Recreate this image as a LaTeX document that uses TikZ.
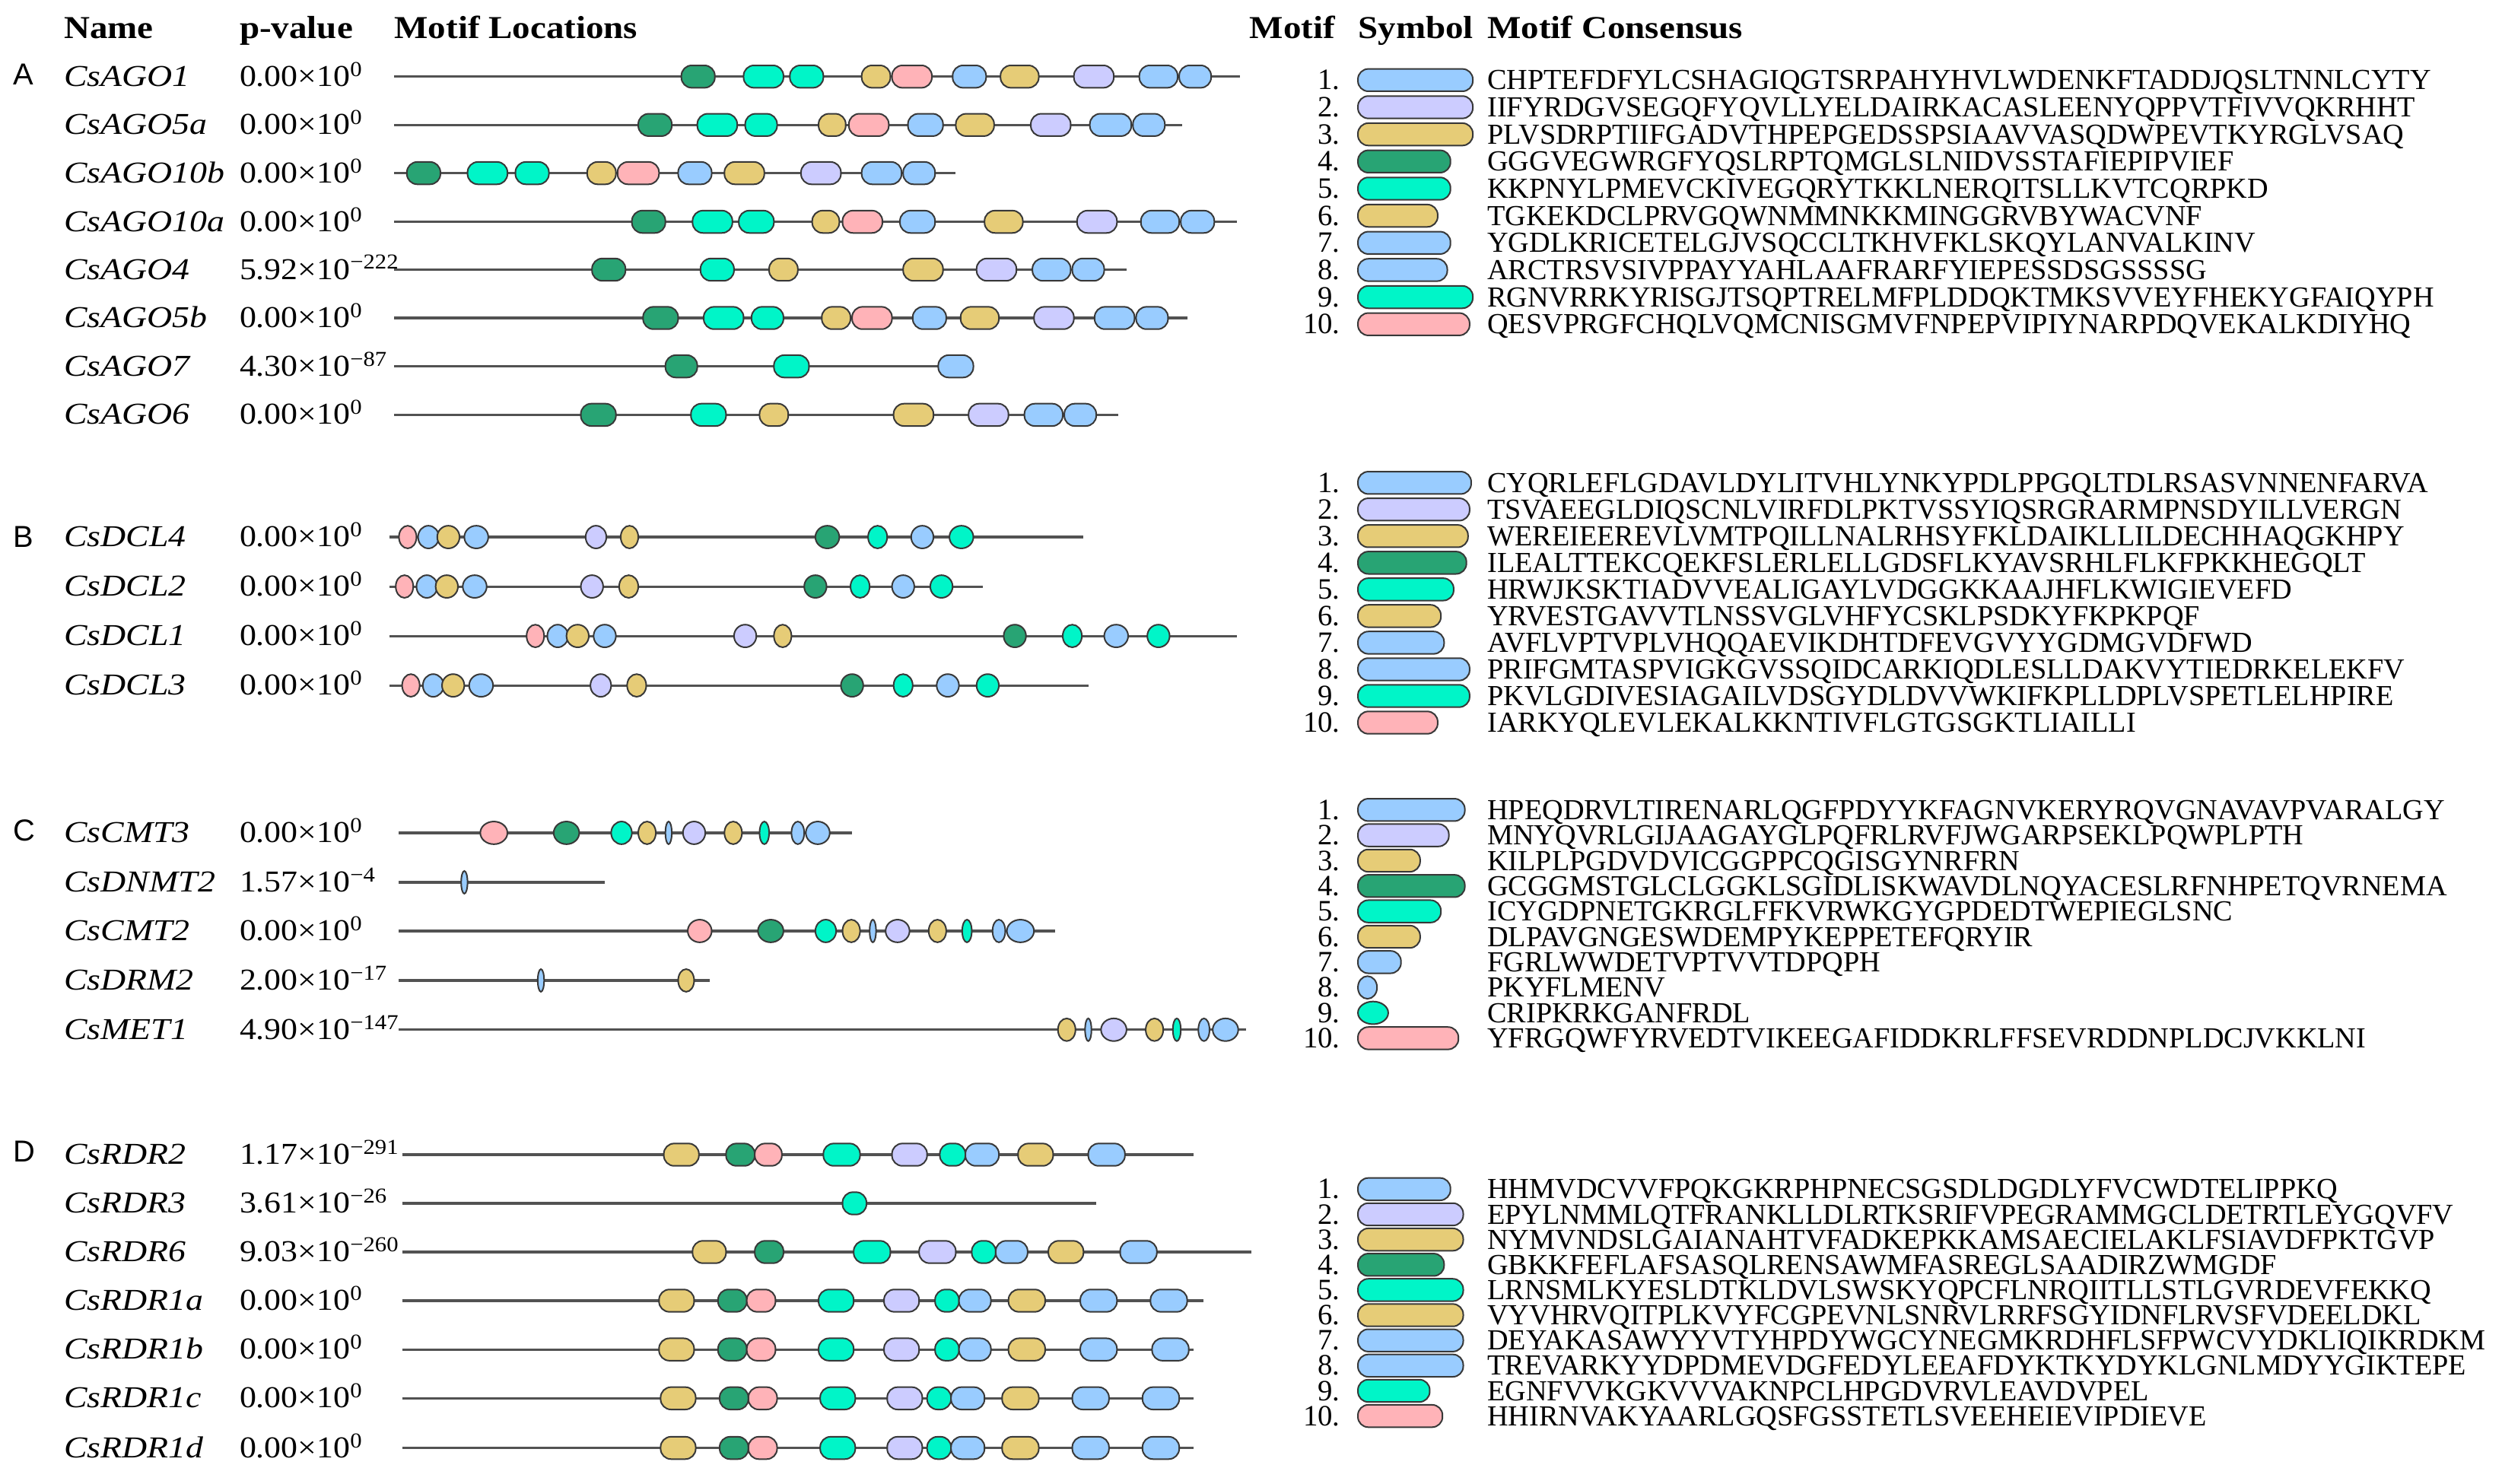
\documentclass[tikz,border=0pt]{standalone}
\usepackage{fontspec}
\setmainfont{Liberation Serif}
\newfontfamily\hdfont[FakeStretch=1.12]{Liberation Serif}
\newfontfamily\nmfont[FakeStretch=1.15]{Liberation Serif}
\newfontfamily\pvfont[FakeStretch=1.1]{Liberation Serif}
\newfontfamily\lfont{Liberation Sans}
\definecolor{mB}{HTML}{99CCFF}
\definecolor{mL}{HTML}{CCCCFF}
\definecolor{mY}{HTML}{E6CC77}
\definecolor{mG}{HTML}{28A474}
\definecolor{mC}{HTML}{00F5C8}
\definecolor{mP}{HTML}{FFB3B8}
\newcommand\pw[1]{\textsuperscript{#1}}
\newcommand\St[4]{\draw[mshape,fill=#1,rounded corners=6.5pt] (#2,#4-7) rectangle (#3,#4+7);}
\newcommand\El[4]{\draw[mshape,fill=#1] ({(#2+#3)/2},#4) ellipse [x radius={(#3-#2)/2*1pt}, y radius=7.1pt];}
\newcommand\Ln[3]{\draw[gline] (#1,#3) -- (#2,#3);}
\newcommand\Row[3]{\node[gn] (n#1) at (40,#3+6) {#1}; \node[pv] (p#1) at (150,#3+6) {#2};}
\newcommand\Leg[6]{\draw[mshape,fill=#4,rounded corners=6.5pt] (851,#2-7) rectangle (#3,#2+7);
  \node[num] (k#1) at (840,#2+6) {#5}; \node[sq] (s#1) at (932,#2+6) {#6};}
\newcommand\LegT[4]{\node[num] (k#1) at (840,#2+6) {#3}; \node[sq] (s#1) at (932,#2+6) {#4};}
\tikzset{
  mshape/.style={draw=black!78, line width=0.95pt},
  gline/.style={draw=black!68, line width=1.5pt},
  gn/.style={anchor=base west, inner sep=0pt, font=\nmfont\fontsize{19}{22}\selectfont\itshape},
  pv/.style={anchor=base west, inner sep=0pt, font=\pvfont\fontsize{19}{22}\selectfont},
  hd/.style={anchor=base west, inner sep=0pt, font=\hdfont\fontsize{20}{24}\selectfont\bfseries},
  num/.style={anchor=base east, inner sep=0pt, font=\fontsize{18.5}{22}\selectfont},
  sq/.style={anchor=base west, inner sep=0pt, font=\fontsize{18.2}{22}\selectfont},
  pl/.style={anchor=base west, inner sep=0pt, font=\lfont\fontsize{19}{22}\selectfont}
}
\begin{document}
\begin{tikzpicture}[x=1pt,y=-1pt]
\fill[white] (0,0) rectangle (1568,929.65);
\useasboundingbox (0,0) rectangle (1568,929.65);
% headers
\node[hd] (hName) at (40,24) {Name};
\node[hd] (hP) at (150,24) {p-value};
\node[hd] (hML) at (247,24) {Motif Locations};
\node[hd] (hM) at (783,24) {Motif};
\node[hd] (hS) at (851,24) {Symbol};
\node[hd] (hMC) at (932,24) {Motif Consensus};
% panel letters
\node[pl] (LA) at (8,53) {A};
\node[pl] (LB) at (8,343) {B};
\node[pl] (LC) at (8,527) {C};
\node[pl] (LD) at (8,728) {D};
% ---------------- Panel A
\Row{CsAGO1}{0.00×10\pw{0}}{48}
\Ln{247}{777}{48}
\St{mG}{427}{448}{48}\St{mC}{466}{491}{48}\St{mC}{495}{516}{48}\St{mY}{540}{558}{48}\St{mP}{559}{584}{48}
\St{mB}{597}{618}{48}\St{mY}{627}{651}{48}\St{mL}{673}{698}{48}\St{mB}{714}{738}{48}\St{mB}{739}{759}{48}
\Row{CsAGO5a}{0.00×10\pw{0}}{78.3}
\Ln{247}{741}{78.3}
\St{mG}{400}{421}{78.3}\St{mC}{437}{462}{78.3}\St{mC}{467}{487}{78.3}\St{mY}{513}{530}{78.3}\St{mP}{532}{557}{78.3}
\St{mB}{569}{591}{78.3}\St{mY}{599}{623}{78.3}\St{mL}{646}{671}{78.3}\St{mB}{683}{709}{78.3}\St{mB}{710}{730}{78.3}
\Row{CsAGO10b}{0.00×10\pw{0}}{108.5}
\Ln{247}{599}{108.5}
\St{mG}{255}{276}{108.5}\St{mC}{293}{318}{108.5}\St{mC}{323}{344}{108.5}\St{mY}{368}{386}{108.5}\St{mP}{387}{413}{108.5}
\St{mB}{425}{446}{108.5}\St{mY}{454}{479}{108.5}\St{mL}{502}{527}{108.5}\St{mB}{540}{565}{108.5}\St{mB}{566}{586}{108.5}
\Row{CsAGO10a}{0.00×10\pw{0}}{139}
\Ln{247}{775}{139}
\St{mG}{396}{417}{139}\St{mC}{434}{459}{139}\St{mC}{463}{485}{139}\St{mY}{509}{526}{139}\St{mP}{528}{553}{139}
\St{mB}{564}{586}{139}\St{mY}{617}{641}{139}\St{mL}{675}{700}{139}\St{mB}{715}{739}{139}\St{mB}{740}{761}{139}
\Row{CsAGO4}{5.92×10\pw{−222}}{169}
\Ln{247}{706}{169}
\St{mG}{371}{392}{169}\St{mC}{439}{460}{169}\St{mY}{482}{500}{169}\St{mY}{566}{591}{169}\St{mL}{612}{637}{169}
\St{mB}{647}{671}{169}\St{mB}{672}{692}{169}
\Row{CsAGO5b}{0.00×10\pw{0}}{199.3}
\Ln{247}{744}{199.3}
\St{mG}{403}{425}{199.3}\St{mC}{441}{466}{199.3}\St{mC}{471}{491}{199.3}\St{mY}{515}{533}{199.3}\St{mP}{534}{559}{199.3}
\St{mB}{572}{593}{199.3}\St{mY}{602}{626}{199.3}\St{mL}{648}{673}{199.3}\St{mB}{686}{711}{199.3}\St{mB}{712}{732}{199.3}
\Row{CsAGO7}{4.30×10\pw{−87}}{229.6}
\Ln{247}{608}{229.6}
\St{mG}{417}{437}{229.6}\St{mC}{485}{507}{229.6}\St{mB}{588}{610}{229.6}
\Row{CsAGO6}{0.00×10\pw{0}}{260}
\Ln{247}{701}{260}
\St{mG}{364}{386}{260}\St{mC}{433}{455}{260}\St{mY}{476}{494}{260}\St{mY}{560}{585}{260}\St{mL}{607}{632}{260}
\St{mB}{642}{666}{260}\St{mB}{667}{687}{260}
% ---------------- Panel B
\Row{CsDCL4}{0.00×10\pw{0}}{336.6}
\Ln{244}{679}{336.6}
\El{mP}{250}{261}{336.6}\El{mB}{262}{275}{336.6}\El{mY}{274}{288}{336.6}\El{mB}{291}{306}{336.6}\El{mL}{367}{380}{336.6}
\El{mY}{389}{400}{336.6}\El{mG}{511}{526}{336.6}\El{mC}{544}{556}{336.6}\El{mB}{571}{585}{336.6}\El{mC}{595}{610}{336.6}
\Row{CsDCL2}{0.00×10\pw{0}}{367.6}
\Ln{244}{616}{367.6}
\El{mP}{248}{259}{367.6}\El{mB}{261}{274}{367.6}\El{mY}{273}{287}{367.6}\El{mB}{290}{305}{367.6}\El{mL}{364}{378}{367.6}
\El{mY}{388}{400}{367.6}\El{mG}{504}{518}{367.6}\El{mC}{533}{545}{367.6}\El{mB}{559}{573}{367.6}\El{mC}{583}{597}{367.6}
\Row{CsDCL1}{0.00×10\pw{0}}{398.6}
\Ln{244}{775}{398.6}
\El{mP}{330}{341}{398.6}\El{mB}{343}{356}{398.6}\El{mY}{355}{369}{398.6}\El{mB}{372}{386}{398.6}\El{mL}{460}{474}{398.6}
\El{mY}{485}{496}{398.6}\El{mG}{629}{643}{398.6}\El{mC}{666}{678}{398.6}\El{mB}{692}{707}{398.6}\El{mC}{719}{733}{398.6}
\Row{CsDCL3}{0.00×10\pw{0}}{429.6}
\Ln{244}{682}{429.6}
\El{mP}{252}{263}{429.6}\El{mB}{265}{278}{429.6}\El{mY}{277}{291}{429.6}\El{mB}{294}{309}{429.6}\El{mL}{370}{383}{429.6}
\El{mY}{393}{405}{429.6}\El{mG}{527}{541}{429.6}\El{mC}{560}{572}{429.6}\El{mB}{587}{601}{429.6}\El{mC}{612}{626}{429.6}
% ---------------- Panel C
\Row{CsCMT3}{0.00×10\pw{0}}{522}
\Ln{250}{534}{522}
\El{mP}{301}{318}{522}\El{mG}{347}{363}{522}\El{mC}{383}{396}{522}\El{mY}{400}{411}{522}\El{mB}{417}{421}{522}
\El{mL}{428}{442}{522}\El{mY}{454}{465}{522}\El{mC}{476}{482}{522}\El{mB}{496}{504}{522}\El{mB}{505}{520}{522}
\Row{CsDNMT2}{1.57×10\pw{−4}}{553}
\Ln{250}{379}{553}
\El{mB}{289}{293}{553}
\Row{CsCMT2}{0.00×10\pw{0}}{583.5}
\Ln{250}{661}{583.5}
\El{mP}{431}{446}{583.5}\El{mG}{475}{491}{583.5}\El{mC}{511}{524}{583.5}\El{mY}{528}{539}{583.5}\El{mB}{545}{549}{583.5}
\El{mL}{555}{570}{583.5}\El{mY}{582}{593}{583.5}\El{mC}{603}{609}{583.5}\El{mB}{622}{630}{583.5}\El{mB}{631}{648}{583.5}
\Row{CsDRM2}{2.00×10\pw{−17}}{614.5}
\Ln{250}{445}{614.5}
\El{mB}{337}{341}{614.5}\El{mY}{425}{435}{614.5}
\Row{CsMET1}{4.90×10\pw{−147}}{645.4}
\Ln{250}{781}{645.4}
\El{mY}{663}{674}{645.4}\El{mB}{680}{684}{645.4}\El{mL}{690}{706}{645.4}\El{mY}{718}{729}{645.4}\El{mC}{735}{740}{645.4}
\El{mB}{751}{758}{645.4}\El{mB}{760}{776}{645.4}
% ---------------- Panel D
\Row{CsRDR2}{1.17×10\pw{−291}}{723.7}
\Ln{252}{748}{723.7}
\St{mY}{416}{438}{723.7}\St{mG}{455}{473}{723.7}\St{mP}{473}{490}{723.7}\St{mC}{516}{539}{723.7}\St{mL}{559}{581}{723.7}
\St{mC}{589}{605}{723.7}\St{mB}{605}{626}{723.7}\St{mY}{638}{660}{723.7}\St{mB}{682}{705}{723.7}
\Row{CsRDR3}{3.61×10\pw{−26}}{754.2}
\Ln{252}{687}{754.2}
\St{mC}{528}{543}{754.2}
\Row{CsRDR6}{9.03×10\pw{−260}}{784.7}
\Ln{252}{784}{784.7}
\St{mY}{434}{455}{784.7}\St{mG}{473}{491}{784.7}\St{mC}{535}{558}{784.7}\St{mL}{576}{599}{784.7}\St{mC}{609}{624}{784.7}
\St{mB}{624}{644}{784.7}\St{mY}{657}{679}{784.7}\St{mB}{702}{725}{784.7}
\Row{CsRDR1a}{0.00×10\pw{0}}{815.2}
\Ln{252}{754}{815.2}
\St{mY}{413}{435}{815.2}\St{mG}{450}{468}{815.2}\St{mP}{468}{486}{815.2}\St{mC}{513}{535}{815.2}\St{mL}{554}{576}{815.2}
\St{mC}{586}{601}{815.2}\St{mB}{601}{621}{815.2}\St{mY}{632}{655}{815.2}\St{mB}{677}{700}{815.2}\St{mB}{721}{744}{815.2}
\Row{CsRDR1b}{0.00×10\pw{0}}{845.8}
\Ln{252}{748}{845.8}
\St{mY}{413}{435}{845.8}\St{mG}{450}{468}{845.8}\St{mP}{468}{486}{845.8}\St{mC}{513}{535}{845.8}\St{mL}{554}{576}{845.8}
\St{mC}{586}{601}{845.8}\St{mB}{601}{621}{845.8}\St{mY}{632}{655}{845.8}\St{mB}{677}{700}{845.8}\St{mB}{722}{745}{845.8}
\Row{CsRDR1c}{0.00×10\pw{0}}{876.4}
\Ln{252}{748}{876.4}
\St{mY}{414}{436}{876.4}\St{mG}{451}{469}{876.4}\St{mP}{469}{487}{876.4}\St{mC}{514}{536}{876.4}\St{mL}{556}{578}{876.4}
\St{mC}{581}{596}{876.4}\St{mB}{596}{617}{876.4}\St{mY}{628}{651}{876.4}\St{mB}{672}{695}{876.4}\St{mB}{716}{739}{876.4}
\Row{CsRDR1d}{0.00×10\pw{0}}{907.5}
\Ln{252}{748}{907.5}
\St{mY}{414}{436}{907.5}\St{mG}{451}{469}{907.5}\St{mP}{469}{487}{907.5}\St{mC}{514}{536}{907.5}\St{mL}{556}{578}{907.5}
\St{mC}{581}{596}{907.5}\St{mB}{596}{617}{907.5}\St{mY}{628}{651}{907.5}\St{mB}{672}{695}{907.5}\St{mB}{716}{739}{907.5}
% ---------------- Legend A
\Leg{A1}{50.2}{923}{mB}{1.}{CHPTEFDFYLCSHAGIQGTSRPAHYHVLWDENKFTADDJQSLTNNLCYTY}
\Leg{A2}{67.2}{923}{mL}{2.}{IIFYRDGVSEGQFYQVLLYELDAIRKACASLEENYQPPVTFIVVQKRHHT}
\Leg{A3}{84.2}{923}{mY}{3.}{PLVSDRPTIIFGADVTHPEPGEDSSPSIAAVVASQDWPEVTKYRGLVSAQ}
\Leg{A4}{101.2}{909}{mG}{4.}{GGGVEGWRGFYQSLRPTQMGLSLNIDVSSTAFIEPIPVIEF}
\Leg{A5}{118.2}{909}{mC}{5.}{KKPNYLPMEVCKIVEGQRYTKKLNERQITSLLKVTCQRPKD}
\Leg{A6}{135.2}{901}{mY}{6.}{TGKEKDCLPRVGQWNMMNKKMINGGRVBYWACVNF}
\Leg{A7}{152.2}{909}{mB}{7.}{YGDLKRICETELGJVSQCCLTKHVFKLSKQYLANVALKINV}
\Leg{A8}{169.2}{907}{mB}{8.}{ARCTRSVSIVPPAYYAHLAAFRARFYIEPESSDSGSSSSG}
\Leg{A9}{186.2}{923}{mC}{9.}{RGNVRRKYRISGJTSQPTRELMFPLDDQKTMKSVVEYFHEKYGFAIQYPH}
\Leg{A10}{203.2}{921}{mP}{10.}{QESVPRGFCHQLVQMCNISGMVFNPEPVIPIYNARPDQVEKALKDIYHQ}
% ---------------- Legend B
\Leg{B1}{302.6}{922}{mB}{1.}{CYQRLEFLGDAVLDYLITVHLYNKYPDLPPGQLTDLRSASVNNENFARVA}
\Leg{B2}{319.3}{921}{mL}{2.}{TSVAEEGLDIQSCNLVIRFDLPKTVSSYIQSRGRARMPNSDYILLVERGN}
\Leg{B3}{336.0}{920}{mY}{3.}{WEREIEEREVLVMTPQILLNALRHSYFKLDAIKLLILDECHHAQGKHPY}
\Leg{B4}{352.7}{919}{mG}{4.}{ILEALTTEKCQEKFSLERLELLGDSFLKYAVSRHLFLKFPKKHEGQLT}
\Leg{B5}{369.4}{911}{mC}{5.}{HRWJKSKTIADVVEALIGAYLVDGGKKAAJHFLKWIGIEVEFD}
\Leg{B6}{386.1}{903}{mY}{6.}{YRVESTGAVVTLNSSVGLVHFYCSKLPSDKYFKPKPQF}
\Leg{B7}{402.8}{905}{mB}{7.}{AVFLVPTVPLVHQQAEVIKDHTDFEVGVYYGDMGVDFWD}
\Leg{B8}{419.5}{921}{mB}{8.}{PRIFGMTASPVIGKGVSSQIDCARKIQDLESLLDAKVYTIEDRKELEKFV}
\Leg{B9}{436.2}{921}{mC}{9.}{PKVLGDIVESIAGAILVDSGYDLDVVWKIFKPLLDPLVSPETLELHPIRE}
\Leg{B10}{452.9}{901}{mP}{10.}{IARKYQLEVLEKALKKNTIVFLGTGSGKTLIAILLI}
% ---------------- Legend C
\Leg{C1}{507.6}{918}{mB}{1.}{HPEQDRVLTIRENARLQGFPDYYKFAGNVKERYRQVGNAVAVPVARALGY}
\Leg{C2}{523.5}{908}{mL}{2.}{MNYQVRLGIJAAGAYGLPQFRLRVFJWGARPSEKLPQWPLPTH}
\Leg{C3}{539.4}{890}{mY}{3.}{KILPLPGDVDVICGGPPCQGISGYNRFRN}
\Leg{C4}{555.3}{918}{mG}{4.}{GCGGMSTGLCLGGKLSGIDLISKWAVDLNQYACESLRFNHPETQVRNEMA}
\Leg{C5}{571.2}{903}{mC}{5.}{ICYGDPNETGKRGLFFKVRWKGYGPDEDTWEPIEGLSNC}
\Leg{C6}{587.1}{890}{mY}{6.}{DLPAVGNGESWDEMPYKEPPETEFQRYIR}
\Leg{C7}{603.0}{878}{mB}{7.}{FGRLWWDETVPTVVTDPQPH}
\El{mB}{851}{863}{618.9}\LegT{C8}{618.9}{8.}{PKYFLMENV}
\El{mC}{851}{870}{634.8}\LegT{C9}{634.8}{9.}{CRIPKRKGANFRDL}
\Leg{C10}{650.7}{914}{mP}{10.}{YFRGQWFYRVEDTVIKEEGAFIDDKRLFFSEVRDDNPLDCJVKKLNI}
% ---------------- Legend D
\Leg{D1}{745.3}{909}{mB}{1.}{HHMVDCVVFPQKGKRPHPNECSGSDLDGDLYFVCWDTELIPPKQ}
\Leg{D2}{761.1}{917}{mL}{2.}{EPYLNMMLQTFRANKLLDLRTKSRIFVPEGRAMMGCLDETRTLEYGQVFV}
\Leg{D3}{776.9}{917}{mY}{3.}{NYMVNDSLGAIANAHTVFADKEPKKAMSAECIELAKLFSIAVDFPKTGVP}
\Leg{D4}{792.7}{905}{mG}{4.}{GBKKFEFLAFSASQLRENSAWMFASREGLSAADIRZWMGDF}
\Leg{D5}{808.5}{917}{mC}{5.}{LRNSMLKYESLDTKLDVLSWSKYQPCFLNRQIITLLSTLGVRDEVFEKKQ}
\Leg{D6}{824.3}{917}{mY}{6.}{VYVHRVQITPLKVYFCGPEVNLSNRVLRRFSGYIDNFLRVSFVDEELDKL}
\Leg{D7}{840.1}{917}{mB}{7.}{DEYAKASAWYYVTYHPDYWGCYNEGMKRDHFLSFPWCVYDKLIQIKRDKM}
\Leg{D8}{855.9}{917}{mB}{8.}{TREVARKYYDPDMEVDGFEDYLEEAFDYKTKYDYKLGNLMDYYGIKTEPE}
\Leg{D9}{871.7}{896}{mC}{9.}{EGNFVVKGKVVVAKNPCLHPGDVRVLEAVDVPEL}
\Leg{D10}{887.5}{904}{mP}{10.}{HHIRNVAKYAARLGQSFGSSTETLSVEEHEIEVIPDIEVE}
\end{tikzpicture}
\end{document}
